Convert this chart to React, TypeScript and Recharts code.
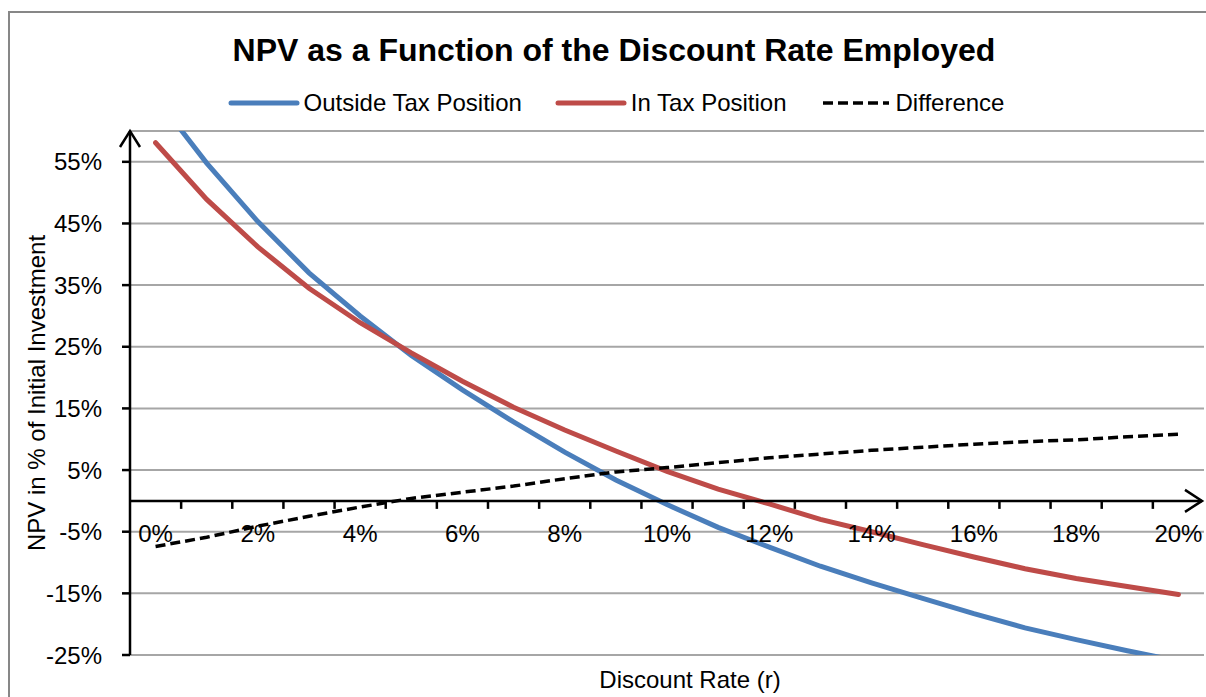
import { CartesianGrid, Line, LineChart, ReferenceLine, XAxis, YAxis } from "recharts";

const rates = [
  "0%", "1%", "2%", "3%", "4%", "5%", "6%", "7%", "8%", "9%", "10%",
  "11%", "12%", "13%", "14%", "15%", "16%", "17%", "18%", "19%", "20%",
];

// NPV in % of the initial investment
const outsideTax = [
  65.5, 54.8, 45.3, 37.0, 30.0, 23.6, 18.0, 12.8, 7.9, 3.4, -0.6,
  -4.3, -7.5, -10.6, -13.3, -15.8, -18.3, -20.6, -22.5, -24.3, -26.0,
];
const inTax = [
  58.1, 48.9, 41.2, 34.5, 28.9, 24.0, 19.4, 15.2, 11.5, 8.1, 4.8,
  1.9, -0.5, -3.0, -5.0, -7.1, -9.1, -11.0, -12.6, -13.9, -15.2,
];
const difference = [
  -7.4, -5.9, -4.1, -2.5, -1.0, 0.4, 1.4, 2.4, 3.6, 4.7, 5.4,
  6.2, 7.0, 7.6, 8.2, 8.7, 9.2, 9.6, 9.9, 10.4, 10.8,
];

const yTicks = [-25, -15, -5, 5, 15, 25, 35, 45, 55];
const yDomain = [-25, 60];

const series = [
  { key: "outside", name: "Outside Tax Position", color: "#4A7EBB", width: 5, dash: undefined },
  { key: "inTax", name: "In Tax Position", color: "#BE4B48", width: 5, dash: undefined },
  { key: "difference", name: "Difference", color: "#000000", width: 3.5, dash: "10 5" },
];

const data = rates.map((rate, i) => ({
  rate,
  outside: outsideTax[i],
  inTax: inTax[i],
  difference: difference[i],
}));

const FONT = '"Liberation Sans", Arial, sans-serif';

// x axis drawn at y = 0, with an arrow at the right end
function ZeroAxis(props: any) {
  const { x1, x2, y1 } = props;
  const band = (x2 - x1) / rates.length;
  return (
    <g>
      <line x1={x1} y1={y1} x2={x2 - 2} y2={y1} stroke="#000" strokeWidth={2.5} />
      <polyline
        points={`${x2 - 19},${y1 - 11} ${x2 - 2},${y1} ${x2 - 19},${y1 + 11}`}
        fill="none"
        stroke="#000"
        strokeWidth={2.5}
      />
      {rates.map((_, i) =>
        i > 0 ? (
          <line
            key={`t${i}`}
            x1={x1 + band * i}
            x2={x1 + band * i}
            y1={y1}
            y2={y1 + 8}
            stroke="#000"
            strokeWidth={2.5}
          />
        ) : null
      )}
      {rates.map((r, i) =>
        i % 2 === 0 ? (
          <text
            key={`l${i}`}
            x={x1 + band * (i + 0.5)}
            y={y1 + 41}
            textAnchor="middle"
            fontSize={24}
            fill="#000"
            fontFamily={FONT}
          >
            {r}
          </text>
        ) : null
      )}
    </g>
  );
}

// arrow head on top of the y axis
function TopArrow(props: any) {
  const { x1, y1 } = props;
  return (
    <polyline
      points={`${x1 - 10},${y1 + 16} ${x1},${y1} ${x1 + 10},${y1 + 16}`}
      fill="none"
      stroke="#000"
      strokeWidth={2.5}
    />
  );
}

function YTitle(props: any) {
  const { viewBox } = props;
  const cy = viewBox.y + viewBox.height / 2;
  const x = viewBox.x + 45;
  return (
    <text
      x={x}
      y={cy}
      transform={`rotate(-90, ${x}, ${cy})`}
      textAnchor="middle"
      fontSize={24}
      fill="#000"
      fontFamily={FONT}
    >
      NPV in % of Initial Investment
    </text>
  );
}

export default function App() {
  return (
    <div
      style={{
        position: "absolute",
        left: 0,
        top: 0,
        width: 1206,
        height: 697,
        overflow: "hidden",
        background: "#fff",
        fontFamily: FONT,
      }}
    >
      <div
        style={{
          position: "absolute",
          left: 8,
          top: 11,
          width: 1240,
          height: 720,
          border: "2px solid #878787",
          boxSizing: "border-box",
        }}
      />
      <div
        style={{
          position: "absolute",
          left: 0,
          top: 34,
          width: 1228,
          textAlign: "center",
          fontSize: 32,
          lineHeight: "32px",
          fontWeight: "bold",
          color: "#000",
        }}
      >
        NPV as a Function of the Discount Rate Employed
      </div>
      <div
        style={{
          position: "absolute",
          left: 0,
          top: 91,
          width: 1232,
          display: "flex",
          justifyContent: "center",
          alignItems: "center",
          gap: 33,
          fontSize: 24,
          lineHeight: "24px",
          color: "#000",
        }}
      >
        {series.map((s) => (
          <div key={s.key} style={{ display: "flex", alignItems: "center" }}>
            <svg width={72} height={12} style={{ marginRight: 4 }}>
              <line
                x1={3}
                x2={69}
                y1={6}
                y2={6}
                stroke={s.color}
                strokeWidth={s.width}
                strokeDasharray={s.dash}
                strokeLinecap={s.dash ? "butt" : "round"}
              />
            </svg>
            <span>{s.name}</span>
          </div>
        ))}
      </div>
      <div
        style={{
          position: "absolute",
          left: 0,
          top: 668,
          width: 1380,
          textAlign: "center",
          fontSize: 24,
          lineHeight: "24px",
          color: "#000",
        }}
      >
        Discount Rate (r)
      </div>
      <div style={{ position: "absolute", left: 0, top: 0 }}>
        <LineChart
          width={1206}
          height={697}
          data={data}
          margin={{ top: 131, right: 2, bottom: 42, left: 0 }}
        >
          <CartesianGrid stroke="#a6a6a6" strokeWidth={2} vertical={false} />
          <XAxis dataKey="rate" hide scale="band" />
          <YAxis
            allowDataOverflow
            axisLine={{ stroke: "#000", strokeWidth: 2.5 }}
            domain={yDomain}
            interval={0}
            label={{ content: YTitle }}
            tick={{ fill: "#000", fontSize: 24, fontFamily: FONT }}
            tickFormatter={(v: number) => `${v}%`}
            tickLine={{ stroke: "#000", strokeWidth: 2.5 }}
            tickMargin={20}
            tickSize={8}
            ticks={yTicks}
            width={130}
          />
          {series.map((s) => (
            <Line
              key={s.key}
              dataKey={s.key}
              dot={false}
              activeDot={false}
              isAnimationActive={false}
              stroke={s.color}
              strokeDasharray={s.dash}
              strokeLinecap={s.dash ? "butt" : "round"}
              strokeWidth={s.width}
              type="linear"
            />
          ))}
          <ReferenceLine y={0} shape={ZeroAxis} />
          <ReferenceLine y={yDomain[1]} shape={TopArrow} />
        </LineChart>
      </div>
    </div>
  );
}
